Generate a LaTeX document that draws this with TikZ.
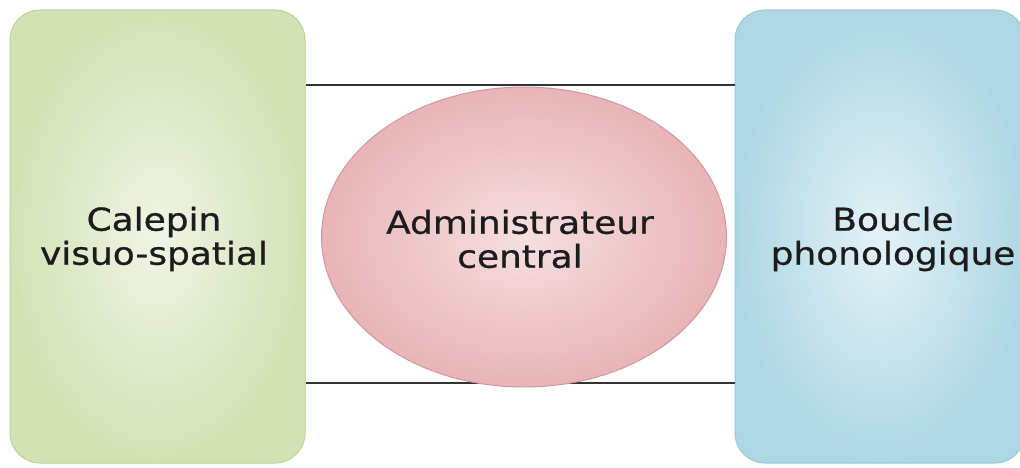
\documentclass[tikz,border=0pt]{standalone}
\usepackage{fontspec}
\newfontfamily\diagfont[FakeStretch=1.14,FakeBold=0.8]{DejaVu Sans}
\usetikzlibrary{shapes.geometric}
\definecolor{gout}{HTML}{D2E2B5}
\definecolor{gin}{HTML}{EFF5E6}
\definecolor{gedge}{HTML}{BCD19A}
\definecolor{bout}{HTML}{AED7E4}
\definecolor{bin}{HTML}{E4F2F7}
\definecolor{bedge}{HTML}{96C8D8}
\definecolor{pout}{HTML}{E8B4B7}
\definecolor{pin}{HTML}{F6DFE0}
\definecolor{pedge}{HTML}{D09A9D}
\definecolor{txt}{HTML}{1C1C1C}
\definecolor{linec}{HTML}{333333}
\tikzset{
  box/.style={rectangle, rounded corners=30pt, minimum width=#1, minimum height=453pt, inner sep=0pt},
  lab/.style={font=\diagfont\fontsize{31.5pt}{34pt}\selectfont, text=txt, align=center, inner sep=0pt},
  link/.style={draw=linec, line width=1.5pt},
}
\begin{document}
\begin{tikzpicture}[x=1pt,y=1pt]
\useasboundingbox (0,0) rectangle (1020,467);
\node[box=295pt, draw=gedge, line width=1pt, shading=radial, inner color=gin, outer color=gout] (L) at (157.5,230.5) {};
\node[box=290pt, draw=bedge, line width=1pt, shading=radial, inner color=bin, outer color=bout] (R) at (880,230.5) {};
\coordinate (top) at (0,382);
\coordinate (bot) at (0,84);
\draw[link] (L.east |- top) -- (R.west |- top);
\draw[link] (L.east |- bot) -- (R.west |- bot);
\node[ellipse, minimum width=405pt, minimum height=300pt, inner sep=0pt, draw=pedge, line width=1pt, shading=radial, inner color=pin, outer color=pout] (C) at (524,230) {};
\node[lab] (Lt) at (154,228) {Calepin\\visuo-spatial};
\node[lab] (Ct) at (520,228) {Administrateur\\central};
\node[lab] (Rt) at (893,228) {Boucle\\phonologique};
\end{tikzpicture}
\end{document}
